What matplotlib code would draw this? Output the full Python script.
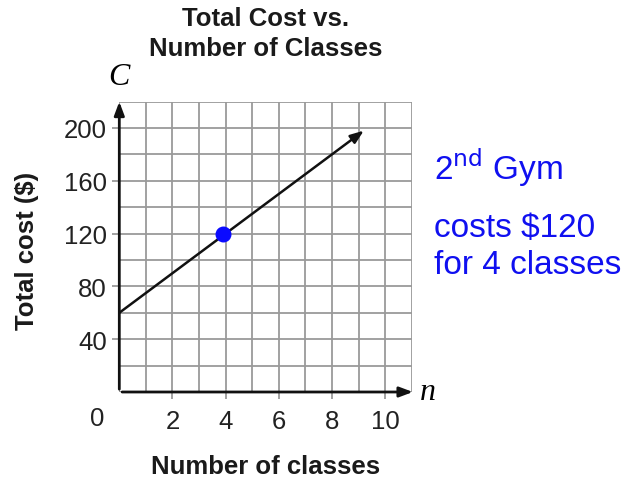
import numpy as np
import matplotlib.pyplot as plt

# data
line_n = [0, 9.2]
line_c = [60, 198]
point_n = [3.9]
point_c = [120]
x_ticks = [2, 4, 6, 8, 10]
y_ticks = [40, 80, 120, 160, 200]
note_lines = ['2$^{\\rm nd}$ Gym', 'costs $120', 'for 4 classes']

plt.rcParams['font.family'] = ['Liberation Sans', 'DejaVu Sans']

f = plt.figure(figsize=(6.38, 4.85))
f.dpi = 100
ax = f.add_axes([0.187, 0.1897, 0.4583, 0.5988])
ax.set_xlim(0, 11)
ax.set_ylim(0, 220)

# grid every 1 class / $20
ax.set_xticks(np.arange(0, 12, 1), minor=True)
ax.set_yticks(np.arange(0, 240, 20), minor=True)
ax.set_xticks(x_ticks)
ax.set_yticks(y_ticks)
ax.grid(which='both', color='#9a9a9a', linewidth=1.3)
ax.tick_params(which='minor', length=0)
ax.tick_params(which='major', length=5, width=1.3, color='#9a9a9a',
               labelsize=18.5, labelcolor='#222222')
ax.tick_params(axis='x', pad=7)
ax.tick_params(axis='y', pad=4)
for s in ax.spines.values():
    s.set_visible(False)
ax.set_axisbelow(True)

# axes arrows
arrow = dict(arrowstyle='-|>,head_length=0.8,head_width=0.3', color='#111111', lw=2)
ax.annotate('', xy=(11.15, 0), xytext=(0, 0), arrowprops=arrow, annotation_clip=False)
ax.annotate('', xy=(0, 222), xytext=(0, 0), arrowprops=arrow, annotation_clip=False)

# cost line
ax.annotate('', xy=(line_n[1], line_c[1]), xytext=(line_n[0], line_c[0]),
            arrowprops=dict(arrowstyle='-|>,head_length=0.8,head_width=0.3',
                            color='#111111', lw=1.8, shrinkA=0, shrinkB=0),
            annotation_clip=False)
ax.scatter(point_n, point_c, s=110, color='#0a0aff', zorder=5, clip_on=False)

ax.text(-0.85, -20, '0', fontsize=18.5, color='#222222', ha='center', va='center')
ax.text(11.6, 0, 'n', fontsize=23, family='Liberation Serif', style='italic', ha='center', va='center')
ax.text(0.0, 239, 'C', fontsize=23, family='Liberation Serif', style='italic', ha='center', va='center')

f.text(0.417, 0.93, 'Total Cost vs.\nNumber of Classes', fontsize=18.5, fontweight='bold',
       ha='center', va='center', linespacing=1.35, color='#1a1a1a')
f.text(0.417, 0.037, 'Number of classes', fontsize=18.5, fontweight='bold', ha='center',
       va='center', color='#1a1a1a')
f.text(0.043, 0.482, 'Total cost ($)', fontsize=18.5, fontweight='bold', rotation=90,
       ha='center', va='center', color='#1a1a1a')

# blue handwritten note
ys = [0.655, 0.528, 0.452]
for t, y in zip(note_lines, ys):
    f.text(0.68, y, t, fontsize=24, color='#1010f0', ha='left', va='center')

plt.savefig('out.png')
